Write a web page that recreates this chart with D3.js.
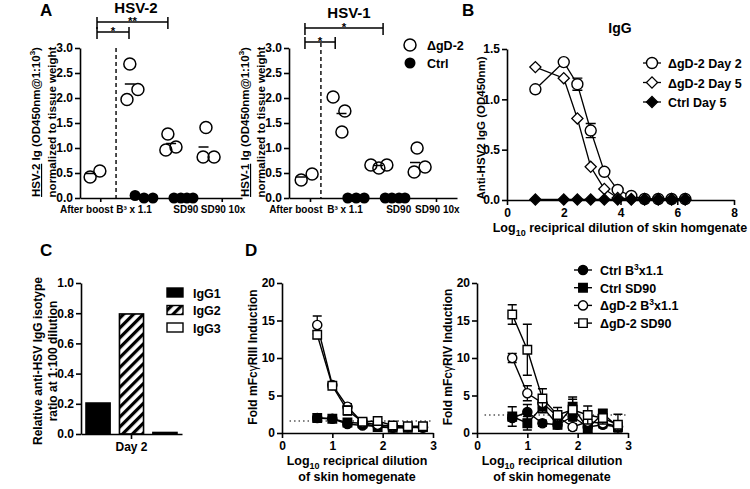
<!DOCTYPE html>
<html>
<head>
<meta charset="utf-8">
<script src="https://cdn.jsdelivr.net/npm/d3@7"></script>
<style>
  body { margin: 0; background: #fff; }
  svg { display: block; }
</style>
</head>
<body>
<div id="fig"></div>
<script>
const FONT = "'Liberation Sans', Arial, Helvetica, sans-serif";

// ---------- panel A ----------
const catLabels = ["After boost", "B\u00b3 x 1.1", "SD90", "SD90 10x"];
const catTicks = [0.5, 1.5, 2.5, 3.5];
const catLabelPos = [0.15, 1.32, 2.6, 3.52];

// [column position, value]
const hsv2Vacc = [[0.25, 0.42], [0.49, 0.54], [1.16, 1.97], [1.23, 2.68], [1.43, 2.17],
  [2.12, 0.96], [2.17, 1.28], [2.37, 1.02], [3.04, 0.82], [3.11, 1.41], [3.31, 0.82]];
const hsv2Ctrl = [[1.36, 0.05], [1.58, 0], [1.8, 0], [2.32, 0], [2.49, 0], [2.64, 0], [2.79, 0]];
const hsv2Means = [[0.25, 0.49], [1.23, 2.28], [2.25, 1.09], [3.05, 1.02]];
const hsv2Sig = [[0.42, 2.17, 3.52, "**"], [0.42, 1.21, 3.32, "*"]];

const hsv1Vacc = [[0.29, 0.36], [0.55, 0.48], [1.05, 2.02], [1.33, 1.74], [1.26, 1.32],
  [1.95, 0.66], [2.14, 0.6], [2.33, 0.66], [3.05, 1.0], [2.98, 0.52], [3.24, 0.62]];
const hsv1Ctrl = [[1.4, 0], [1.6, 0], [1.79, 0], [2.29, 0], [2.45, 0], [2.62, 0], [2.76, 0]];
const hsv1Means = [[0.28, 0.42], [1.25, 1.69], [2.12, 0.65], [3.0, 0.71]];
const hsv1Sig = [[0.38, 2.24, 3.40, "*"], [0.38, 1.1, 3.12, "*"]];

// ---------- panel B ----------
const dilB = [1, 2, 2.48, 2.95, 3.43, 3.9, 4.38, 4.85, 5.33, 5.8, 6.28];
const igDay2 = [1.10, 1.37, 1.15, 0.69, 0.28, 0.10, 0.04, 0.01, 0.01, 0.01, 0.01];
const igDay2Err = [0, 0, 0.06, 0.07, 0, 0, 0, 0, 0, 0, 0];
const igDay5 = [1.32, 1.21, 0.81, 0.33, 0.11, 0.02, 0.01, 0.01, 0.01, 0.01, 0.01];
const igCtrl5 = [0.005, 0.005, 0.005, 0.005, 0.005, 0.005, 0.005, 0.005, 0.005, 0.005, 0.005];

// ---------- panel C ----------
const isoNames = ["IgG1", "IgG2", "IgG3"];
const isoVals = [0.205, 0.795, 0.01];

// ---------- panel D ----------
const dilD = [0.7, 1.0, 1.3, 1.6, 1.9, 2.2, 2.5, 2.8];
const r3CtrlB3 = [2.0, 1.9, 1.2, 1.0, 0.9, 0.7, 0.8, 0.7];
const r3CtrlB3Err = [0.2, 0.1, 0.2, 0.1, 0.1, 0.1, 0.1, 0.1];
const r3CtrlSD = [2.0, 1.9, 1.4, 1.3, 0.8, 0.7, 0.7, 0.8];
const r3CtrlSDErr = [0.2, 0.1, 0.2, 0.1, 0.1, 0.1, 0.1, 0.1];
const r3GdB3 = [14.4, 6.4, 3.5, 1.4, 1.1, 0.9, 0.8, 0.8];
const r3GdB3Err = [1.2, 0.3, 0.4, 0.2, 0.2, 0.1, 0.1, 0.1];
const r3GdSD = [13.1, 6.3, 3.0, 1.5, 1.6, 1.0, 0.9, 0.9];
const r3GdSDErr = [0.5, 0.3, 0.6, 0.2, 0.3, 0.2, 0.1, 0.1];
const r3Cutoff = 1.6;

const r4CtrlB3 = [2.0, 2.8, 1.3, 1.1, 2.2, 0.8, 1.1, 0.8];
const r4CtrlB3Err = [0.4, 1.0, 0.4, 0.4, 0.6, 0.4, 0.4, 0.3];
const r4CtrlSD = [2.2, 1.3, 3.5, 1.1, 3.5, 0.6, 2.6, 0.8];
const r4CtrlSDErr = [1.3, 0.9, 0.8, 0.5, 1.3, 0.5, 0.5, 0.5];
const r4GdB3 = [10.0, 5.3, 4.0, 2.2, 0.8, 1.5, 1.3, 0.9];
const r4GdB3Err = [0.6, 1.0, 0.6, 0.5, 0.4, 0.6, 0.4, 0.4];
const r4GdSD = [15.8, 11.1, 4.6, 2.4, 3.1, 2.4, 2.0, 1.1];
const r4GdSDErr = [1.3, 3.4, 1.3, 1.0, 1.4, 1.2, 0.8, 1.4];
const r4Cutoff = 2.4;

const svg = d3.select("#fig").append("svg")
  .attr("width", 750).attr("height", 489)
  .style("font-family", FONT).style("font-weight", "bold");

// hatch for IgG2
svg.append("defs").append("pattern")
  .attr("id", "hatch").attr("patternUnits", "userSpaceOnUse")
  .attr("width", 7).attr("height", 7).attr("patternTransform", "rotate(45)")
  .append("rect").attr("width", 3.2).attr("height", 7).attr("fill", "#000");

function styleAxis(g, fs) {
  g.attr("font-family", null).attr("font-size", null);
  g.select(".domain").attr("stroke", "#000").attr("stroke-width", 1.6);
  g.selectAll(".tick line").attr("stroke", "#000").attr("stroke-width", 1.6);
  g.selectAll(".tick text").attr("fill", "#000").attr("font-size", fs)
    .attr("font-weight", "bold").attr("font-family", FONT);
}

function yAxis(scale, x, ticks, fmt) {
  const g = svg.append("g").attr("transform", `translate(${x},0)`)
    .call(d3.axisLeft(scale).tickValues(ticks).tickFormat(fmt).tickSize(5).tickSizeOuter(0).tickPadding(2));
  styleAxis(g, 12);
  return g;
}

function xAxis(scale, y, ticks, fmt, fs) {
  const g = svg.append("g").attr("transform", `translate(0,${y})`)
    .call(d3.axisBottom(scale).tickValues(ticks).tickFormat(fmt).tickSize(5).tickSizeOuter(0).tickPadding(3));
  styleAxis(g, fs || 12);
  return g;
}

function label(x, y, txt, fs, anchor) {
  return svg.append("text").attr("x", x).attr("y", y)
    .attr("font-size", fs).attr("text-anchor", anchor || "middle").text(txt);
}

function vLabel(x, y, fs) {
  return svg.append("text").attr("transform", `translate(${x},${y}) rotate(-90)`)
    .attr("font-size", fs).attr("text-anchor", "middle");
}

// panel letters
label(40, 16, "A", 17, "start");
label(462, 16, "B", 17, "start");
label(40, 256, "C", 17, "start");
label(245, 256, "D", 17, "start");

// ---------- A: dot plots ----------
function dotPanel(o) {
  const x = d3.scaleLinear().domain([0, 4]).range([o.x0, o.x1]);
  const y = d3.scaleLinear().domain([0, 3]).range([198, 48]);

  yAxis(y, o.x0, [0, 0.5, 1, 1.5, 2, 2.5, 3], d3.format(".1f"));
  const gx = xAxis(x, 198, catTicks, (d, i) => catLabels[i], 10);
  gx.selectAll(".tick line").attr("y2", 4);
  gx.selectAll(".tick text").attr("x", (d, i) => x(catLabelPos[i]) - x(catTicks[i]));

  // y label
  const t = vLabel(o.x0 - 40, 122, 11.5);
  t.append("tspan").attr("text-decoration", "underline").text(o.virus);
  t.append("tspan").text(" Ig (OD450nm@1:10");
  t.append("tspan").attr("font-size", 8).attr("dy", -5).text("3");
  t.append("tspan").attr("dy", 5).text(")");
  vLabel(o.x0 - 24, 122, 11.5).text("normalized to tissue weight");

  label(o.titleX, o.titleY, o.virus, 15);

  // dashed separator
  svg.append("line")
    .attr("x1", x(o.dash)).attr("x2", x(o.dash))
    .attr("y1", y(o.dashTop)).attr("y2", y(0))
    .attr("stroke", "#000").attr("stroke-width", 1.4).attr("stroke-dasharray", "4,3");

  // significance brackets
  o.sig.forEach(s => {
    const yy = y(s[2]);
    svg.append("path")
      .attr("d", `M${x(s[0])},${yy - 5}V${yy + 7}M${x(s[0])},${yy}H${x(s[1])}M${x(s[1])},${yy - 5}V${yy + 7}`)
      .attr("fill", "none").attr("stroke", "#000").attr("stroke-width", 1.5);
    label((x(s[0]) + x(s[1])) / 2, yy + 3, s[3], 11.5);
  });

  // mean lines
  svg.append("g").selectAll("line").data(o.means).join("line")
    .attr("x1", d => x(d[0]) - 5).attr("x2", d => x(d[0]) + 5)
    .attr("y1", d => y(d[1])).attr("y2", d => y(d[1]))
    .attr("stroke", "#000").attr("stroke-width", 1.5);

  svg.append("g").selectAll("circle").data(o.vacc).join("circle")
    .attr("cx", d => x(d[0])).attr("cy", d => y(d[1])).attr("r", 6)
    .attr("fill", "none").attr("stroke", "#000").attr("stroke-width", 1.5);

  svg.append("g").selectAll("circle").data(o.ctrl).join("circle")
    .attr("cx", d => x(d[0])).attr("cy", d => y(d[1])).attr("r", 5.5)
    .attr("fill", "#000");
}

dotPanel({ x0: 80, x1: 242, virus: "HSV-2", titleX: 136, titleY: 12.5,
  vacc: hsv2Vacc, ctrl: hsv2Ctrl, means: hsv2Means, sig: hsv2Sig, dash: 0.89, dashTop: 3.0 });
dotPanel({ x0: 289, x1: 457, virus: "HSV-1", titleX: 349, titleY: 18,
  vacc: hsv1Vacc, ctrl: hsv1Ctrl, means: hsv1Means, sig: hsv1Sig, dash: 0.76, dashTop: 3.1 });

// legend A
svg.append("circle").attr("cx", 410).attr("cy", 45).attr("r", 6)
  .attr("fill", "#fff").attr("stroke", "#000").attr("stroke-width", 1.5);
svg.append("circle").attr("cx", 410).attr("cy", 63).attr("r", 5.5).attr("fill", "#000");
label(427, 50, "\u0394gD-2", 12.5, "start");
label(427, 68, "Ctrl", 12.5, "start");

// ---------- B: IgG curves ----------
{
  const x = d3.scaleLinear().domain([0, 8]).range([507, 734]);
  const y = d3.scaleLinear().domain([0, 1.5]).range([200, 49]);
  yAxis(y, 507, [0, 0.5, 1, 1.5], d3.format(".1f"));
  xAxis(x, 200, [0, 2, 4, 6, 8], d3.format("d"));

  label(620, 33, "IgG", 14);
  vLabel(485, 128, 11.5).text("Anti-HSV2 IgG (OD450nm)");
  const xl = label(620, 232, "Log", 12.5);
  xl.append("tspan").attr("font-size", 9).attr("dy", 4).text("10");
  xl.append("tspan").attr("dy", -4).text(" reciprical dilution of skin homgenate");

  const line = d3.line().x(d => x(d[0])).y(d => y(d[1]));
  const diamond = d3.symbol().type(d3.symbolSquare).size(62);
  const series = [
    { v: igDay2, kind: "circle" },
    { v: igDay5, kind: "diamond", fill: "#fff" },
    { v: igCtrl5, kind: "diamond", fill: "#000" }
  ];
  series.forEach(s => {
    const pts = dilB.map((d, i) => [d, s.v[i]]);
    svg.append("path").attr("d", line(pts)).attr("fill", "none")
      .attr("stroke", "#000").attr("stroke-width", 1.3);
  });
  // error bars Day 2
  dilB.forEach((d, i) => {
    const e = igDay2Err[i];
    if (!e) return;
    const cx = x(d), a = y(igDay2[i] + e), b = y(igDay2[i] - e);
    svg.append("path").attr("d", `M${cx},${a}V${b}M${cx - 5},${a}H${cx + 5}M${cx - 5},${b}H${cx + 5}`)
      .attr("stroke", "#000").attr("stroke-width", 1.3).attr("fill", "none");
  });
  series.forEach(s => {
    const g = svg.append("g");
    const pts = dilB.map((d, i) => [d, s.v[i]]);
    if (s.kind === "circle") {
      g.selectAll("circle").data(pts).join("circle")
        .attr("cx", d => x(d[0])).attr("cy", d => y(d[1])).attr("r", 5.5)
        .attr("fill", "#fff").attr("stroke", "#000").attr("stroke-width", 1.4);
    } else {
      g.selectAll("path").data(pts).join("path")
        .attr("d", diamond)
        .attr("transform", d => `translate(${x(d[0])},${y(d[1])}) rotate(45)`)
        .attr("fill", s.fill).attr("stroke", "#000").attr("stroke-width", 1.3);
    }
  });

  // legend
  const rows = [["\u0394gD-2 Day 2", "circle", "#fff"], ["\u0394gD-2 Day 5", "diamond", "#fff"], ["Ctrl Day 5", "diamond", "#000"]];
  rows.forEach((r, i) => {
    const cy = 63 + i * 19.5;
    svg.append("line").attr("x1", 643).attr("x2", 661).attr("y1", cy).attr("y2", cy)
      .attr("stroke", "#000").attr("stroke-width", 1.3);
    if (r[1] === "circle") {
      svg.append("circle").attr("cx", 652).attr("cy", cy).attr("r", 5.5)
        .attr("fill", r[2]).attr("stroke", "#000").attr("stroke-width", 1.4);
    } else {
      svg.append("path").attr("d", diamond)
        .attr("transform", `translate(652,${cy}) rotate(45)`)
        .attr("fill", r[2]).attr("stroke", "#000").attr("stroke-width", 1.3);
    }
    label(668, cy + 5, r[0], 12.5, "start");
  });
}

// ---------- C: isotype bars ----------
{
  const y = d3.scaleLinear().domain([0, 1]).range([434, 283]);
  const xb = d3.scaleBand().domain(isoNames).range([81, 182]).paddingInner(0.28).paddingOuter(0.15);
  const xd = d3.scaleBand().domain(["Day 2"]).range([81, 182]);
  const fills = ["#000", "url(#hatch)", "#fff"];

  svg.append("g").selectAll("rect").data(isoVals).join("rect")
    .attr("x", (d, i) => xb(isoNames[i])).attr("width", xb.bandwidth())
    .attr("y", d => y(d)).attr("height", d => y(0) - y(d))
    .attr("fill", (d, i) => fills[i]).attr("stroke", "#000").attr("stroke-width", 1.6);

  yAxis(y, 81, [0, 0.2, 0.4, 0.6, 0.8, 1.0], d3.format(".1f"));
  xAxis(xd, 434, ["Day 2"], d => d);

  vLabel(42, 361, 12).text("Relative anti-HSV IgG isotype");
  vLabel(57, 361, 12).text("ratio at 1:100 dilution");

  isoNames.forEach((n, i) => {
    const ty = 288 + i * 17.5;
    svg.append("rect").attr("x", 167).attr("y", ty).attr("width", 16).attr("height", 9)
      .attr("fill", fills[i]).attr("stroke", "#000").attr("stroke-width", 1.4);
    label(193, ty + 9.5, n, 12.5, "start");
  });
}

// ---------- D: FcgR reporter ----------
const dSeries = [
  { name: "Ctrl B\u00b3x1.1", shape: "circle", fill: "#000" },
  { name: "Ctrl SD90", shape: "square", fill: "#000" },
  { name: "\u0394gD-2 B\u00b3x1.1", shape: "circle", fill: "#fff" },
  { name: "\u0394gD-2 SD90", shape: "square", fill: "#fff" }
];
const symCircle = d3.symbol().type(d3.symbolCircle).size(66);
const symSquare = d3.symbol().type(d3.symbolSquare).size(72);

function dPanel(x0, vals, errs, cutoff, ylab) {
  const x = d3.scaleLinear().domain([0, 3]).range([x0, x0 + 151]);
  const y = d3.scaleLinear().domain([0, 20]).range([433, 283]);
  yAxis(y, x0, [0, 5, 10, 15, 20], d3.format("d"));
  xAxis(x, 433, [0, 1, 2, 3], d3.format("d"));

  svg.append("line").attr("x1", x(0.15)).attr("x2", x(2.97))
    .attr("y1", y(cutoff)).attr("y2", y(cutoff))
    .attr("stroke", "#000").attr("stroke-width", 1.2).attr("stroke-dasharray", "1.5,3");

  const t = vLabel(x0 - 25, 357, 12);
  t.append("tspan").text("Fold mFc");
  t.append("tspan").attr("font-weight", "normal").text("\u03b3");
  t.append("tspan").text(ylab);

  const l1 = label(x0 + 75, 465, "Log", 12.5);
  l1.append("tspan").attr("font-size", 9).attr("dy", 4).text("10");
  l1.append("tspan").attr("dy", -4).text(" reciprical dilution");
  label(x0 + 75, 481, "of skin homegenate", 12.5);

  const line = d3.line().x(d => x(d[0])).y(d => y(d[1]));
  dSeries.forEach((s, k) => {
    const pts = dilD.map((d, i) => [d, vals[k][i], errs[k][i]]);
    const g = svg.append("g");
    g.append("path").attr("d", line(pts)).attr("fill", "none")
      .attr("stroke", "#000").attr("stroke-width", 1.4);
    g.selectAll(".eb").data(pts).join("path")
      .attr("d", d => {
        const cx = x(d[0]), a = y(d[1] + d[2]), b = y(Math.max(0, d[1] - d[2]));
        return `M${cx},${a}V${b}M${cx - 4.5},${a}H${cx + 4.5}M${cx - 4.5},${b}H${cx + 4.5}`;
      })
      .attr("fill", "none").attr("stroke", "#000").attr("stroke-width", 1.3);
    g.selectAll(".mk").data(pts).join("path")
      .attr("d", s.shape === "circle" ? symCircle : symSquare)
      .attr("transform", d => `translate(${x(d[0])},${y(d[1])})`)
      .attr("fill", s.fill).attr("stroke", "#000").attr("stroke-width", 1.4);
  });
}

dPanel(282, [r3CtrlB3, r3CtrlSD, r3GdB3, r3GdSD], [r3CtrlB3Err, r3CtrlSDErr, r3GdB3Err, r3GdSDErr], r3Cutoff, "RIII Induction");
dPanel(477, [r4CtrlB3, r4CtrlSD, r4GdB3, r4GdSD], [r4CtrlB3Err, r4CtrlSDErr, r4GdB3Err, r4GdSDErr], r4Cutoff, "RIV Induction");

// legend D
dSeries.forEach((s, i) => {
  const cy = 270 + i * 17.7;
  svg.append("line").attr("x1", 574).attr("x2", 592).attr("y1", cy).attr("y2", cy)
    .attr("stroke", "#000").attr("stroke-width", 1.4);
  svg.append("path").attr("d", s.shape === "circle" ? symCircle : symSquare)
    .attr("transform", `translate(583,${cy})`)
    .attr("fill", s.fill).attr("stroke", "#000").attr("stroke-width", 1.4);
  const t = label(600, cy + 5, "", 12.5, "start");
  const parts = s.name.split("\u00b3");
  t.append("tspan").text(parts[0]);
  if (parts.length > 1) {
    t.append("tspan").attr("font-size", 8.5).attr("dy", -5).text("3");
    t.append("tspan").attr("dy", 5).text(parts[1]);
  }
});
</script>
</body>
</html>
